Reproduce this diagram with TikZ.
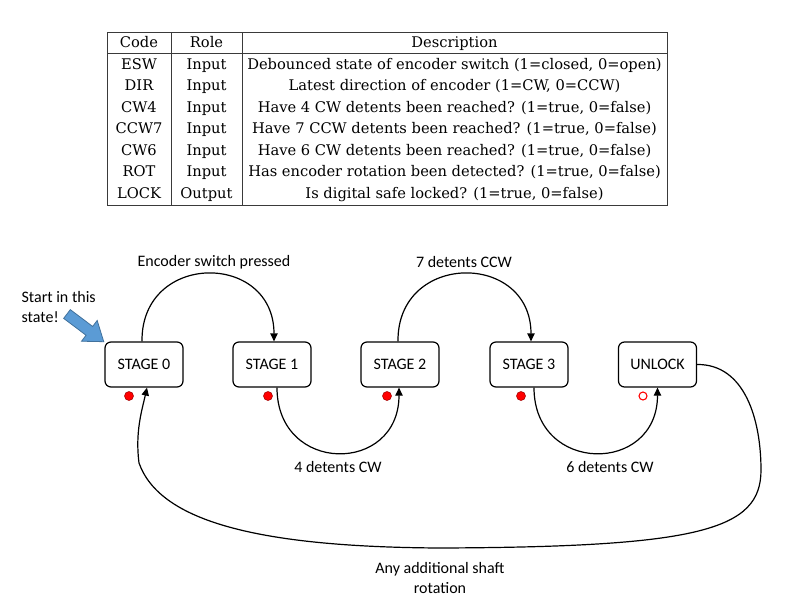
\documentclass[tikz,border=0pt]{standalone}
\usepackage{fontspec}
\setmainfont{DejaVu Serif}
\newfontfamily\calfont{Carlito}
\usetikzlibrary{arrows.meta, calc}
\definecolor{cblue}{HTML}{5B9BD5}
\definecolor{cblueedge}{HTML}{41719C}
\definecolor{cred}{HTML}{FF0000}
\definecolor{cdarkred}{HTML}{A00000}
\definecolor{crule}{HTML}{3A3A3A}
\tikzset{
  every picture/.style={line width=0.9pt},
  state/.style={draw, rounded corners=4.5pt, minimum width=58.5pt, minimum height=33.75pt, font=\calfont\fontsize{12}{14}\selectfont},
  arrow/.style={-{Triangle[length=6pt, width=5.5pt]}, line width=0.9pt},
  lbl/.style={font=\calfont\fontsize{12}{14.5}\selectfont, align=center, inner sep=0pt},
  dot/.style={circle, draw=cdarkred, fill=cred, inner sep=0pt, minimum size=6.75pt, line width=0.4pt},
  odot/.style={circle, draw=cred, fill=white, inner sep=0pt, minimum size=6pt, line width=0.8pt},
  cell/.style={font=\fontsize{11}{13}\selectfont, inner sep=0pt, anchor=base},
  rule/.style={draw=crule, line width=0.6pt},
}

\begin{document}
\begin{tikzpicture}[x=0.75pt, y=0.75pt]
  \useasboundingbox (0,0) rectangle (786,-614);
  % signal table
  \draw[rule] (107,-32) rectangle (667,-205);
  \draw[rule] (107,-53) -- (667,-53);
  \draw[rule] (171,-32) -- (171,-205);
  \draw[rule] (242,-32) -- (242,-205);
  \node[cell] (hcode) at (139,-47) {Code};
  \node[cell] (hrole) at (206.5,-47) {Role};
  \node[cell] (hdesc) at (454.5,-47) {Description};
  \foreach \c/\r/\d [count=\i] in {
      ESW/Input/{Debounced state of encoder switch (1=closed, 0=open)},
      DIR/Input/{Latest direction of encoder (1=CW, 0=CCW)},
      CW4/Input/{Have 4 CW detents been reached? (1=true, 0=false)},
      CCW7/Input/{Have 7 CCW detents been reached? (1=true, 0=false)},
      CW6/Input/{Have 6 CW detents been reached? (1=true, 0=false)},
      ROT/Input/{Has encoder rotation been detected? (1=true, 0=false)},
      LOCK/Output/{Is digital safe locked? (1=true, 0=false)}} {
    \node[cell] (code\i) at (139,-47.5-21.5*\i) {\c};
    \node[cell] (role\i) at (206.5,-47.5-21.5*\i) {\r};
    \node[cell] (desc\i) at (454.5,-47.5-21.5*\i) {\d};
  }

  % state machine
  \foreach \n/\x/\t in {s0/144/STAGE 0, s1/272/STAGE 1, s2/400/STAGE 2, s3/529/STAGE 3, s4/657.5/UNLOCK}
    \node[state] (\n) at (\x,-364.5) {\t};
  \node[dot]  (d0) at (129,-396) {};
  \node[dot]  (d1) at (268,-396) {};
  \node[dot]  (d2) at (387,-396) {};
  \node[dot]  (d3) at (521,-396) {};
  \node[odot] (d4) at (643,-396) {};

  \draw[arrow] ($(s0.north)+(-2,0)$) .. controls +(-1,90) and +(0,90) .. ($(s1.north)+(2,0)$);
  \draw[arrow] ($(s2.north)+(-2,0)$) .. controls +(-1,90) and +(0,90) .. ($(s3.north)+(2,0)$);
  \draw[arrow] ($(s1.south)+(5,0)$) .. controls +(0,-87) and +(0,-87) .. ($(s2.south)+(-1,0)$);
  \draw[arrow] ($(s3.south)+(5,0)$) .. controls +(0,-87) and +(0,-87) .. (s4.south);
  \draw[arrow] (s4.east) .. controls (745,-364) and (761,-420) .. (761,-470)
    .. controls (761,-530) and (700,-547) .. (440,-548)
    .. controls (260,-547) and (160,-522) .. (139,-463)
    .. controls (135,-432) and (142,-410) .. ($(s0.south)+(3,0)$);

  \node[lbl] (l01) at (214,-262) {Encoder switch pressed};
  \node[lbl] (l23) at (464,-262) {7 detents CCW};
  \node[lbl] (l12) at (338,-467) {4 detents CW};
  \node[lbl] (l34) at (610,-467) {6 detents CW};
  \node[lbl] (lrot) at (440,-578) {Any additional shaft\\rotation};
  \node[lbl, align=left, anchor=west] (lstart) at (21,-307) {Start in this\\state!};

  % start pointer
  \begin{scope}[shift={(67,-314)}, rotate=-37]
    \filldraw[fill=cblue, draw=cblueedge, line width=0.6pt]
      (0,5.5) -- (28,5.5) -- (28,13) -- (46,0) -- (28,-13) -- (28,-5.5) -- (0,-5.5) -- cycle;
  \end{scope}
\end{tikzpicture}
\end{document}
